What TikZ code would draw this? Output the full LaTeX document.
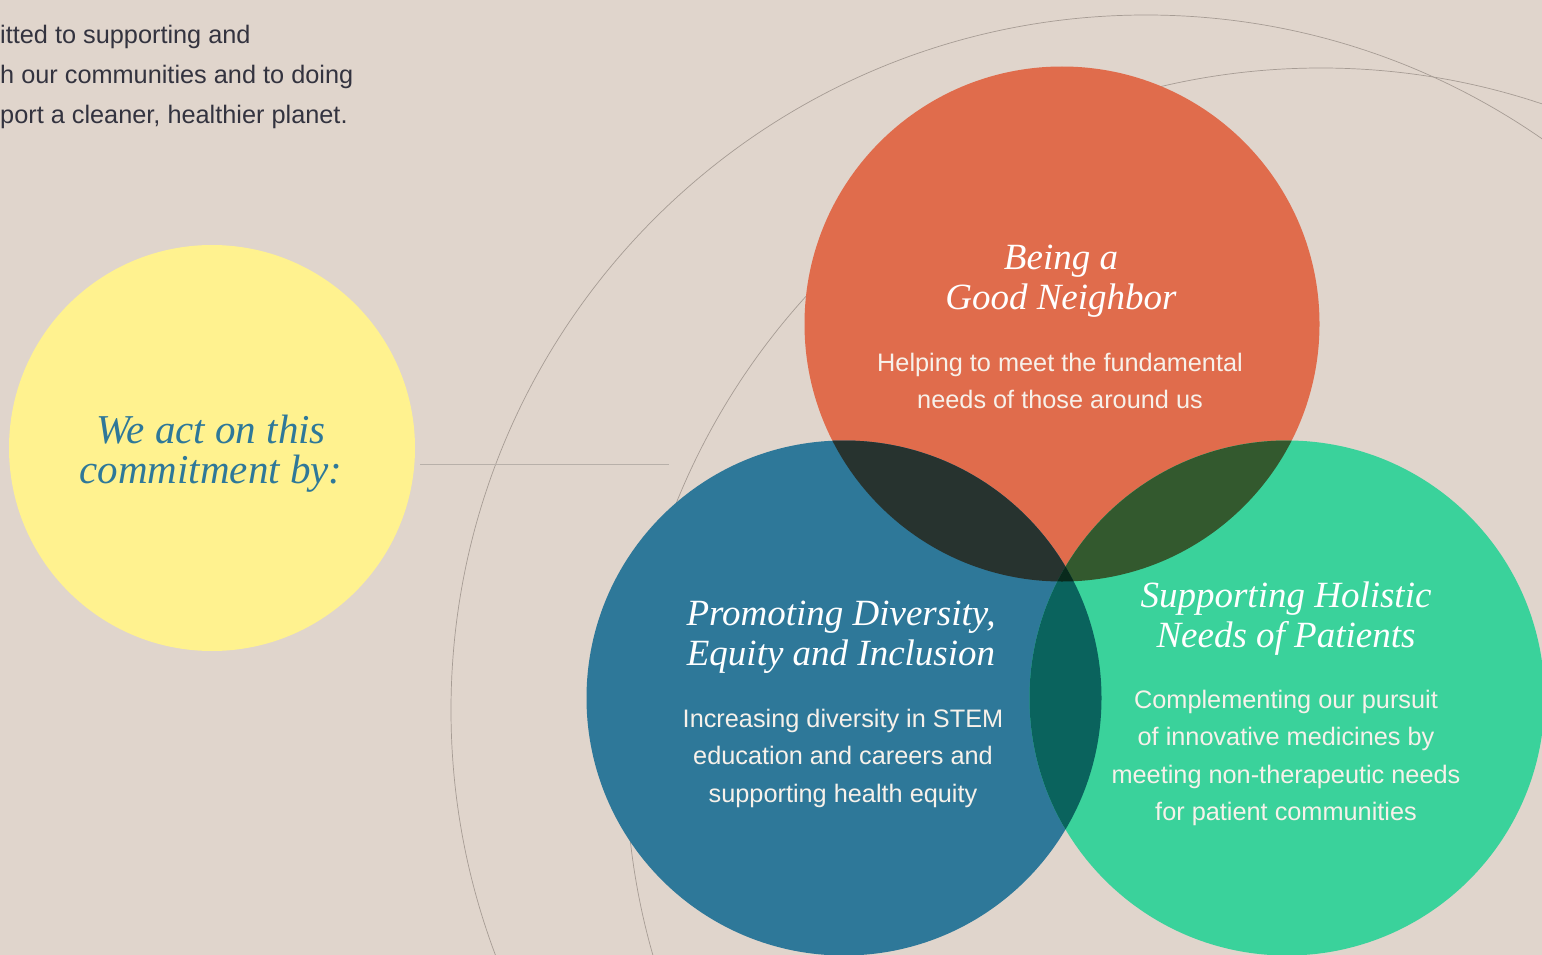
\documentclass[tikz,border=0pt]{standalone}
\usepackage{fontspec}
\setmainfont{Liberation Sans}
\newfontfamily\headfont{Liberation Serif}
\definecolor{bgbeige}{HTML}{E0D5CC}
\definecolor{sunyellow}{HTML}{FFF28F}
\definecolor{coral}{HTML}{E06C4C}
\definecolor{deepblue}{HTML}{2E7899}
\definecolor{mint}{HTML}{3AD29B}
\definecolor{coralblue}{HTML}{27332F}
\definecolor{coralmint}{HTML}{33592E}
\definecolor{bluemint}{HTML}{0A635D}
\definecolor{allthree}{HTML}{092A1C}
\definecolor{arcgray}{HTML}{A69C94}
\definecolor{inktext}{HTML}{33333F}
\definecolor{softwhite}{HTML}{F7F1EA}
\tikzset{
  headline/.style={text=white, font=\headfont\itshape\fontsize{37}{40}\selectfont, align=center, inner sep=0},
  blurb/.style={text=softwhite, font=\fontsize{25.3}{37.5}\selectfont, align=center, inner sep=0},
  intro/.style={text=inktext, font=\fontsize{25.3}{40}\selectfont, anchor=west, inner sep=0},
  guide/.style={draw=arcgray, line width=0.7pt},
}
\begin{document}
\begin{tikzpicture}[x=1pt,y=-1pt]
    \useasboundingbox (0,0) rectangle (1542,955);
    \clip (0,0) rectangle (1542,955);
    \fill[bgbeige] (0,0) rectangle (1542,955);
    %
    \draw[guide] (1146,710) circle (695);
    \draw[guide] (1321,763) circle (695);
    %
    \node[intro] (introa) at (0,37) {itted to supporting and};
    \node[intro] (introb) at (0,77) {h our communities and to doing};
    \node[intro] (introc) at (0,117) {port a cleaner, healthier planet.};
    %
    \node[circle, fill=sunyellow, minimum size=406, inner sep=0] (commit) at (212,448) {};
    \node[headline, text=deepblue, font=\headfont\itshape\fontsize{41}{40}\selectfont] (committext) at (211,454) {We act on this\\commitment by:};
    \coordinate (linestart) at (420,464);
    \coordinate (lineend) at (669,464);
    \draw[guide, draw=arcgray!80] (linestart) -- (lineend);
    %
    \coordinate (neighbor) at (1062,324);
    \coordinate (diversity) at (844,698);
    \coordinate (patients) at (1287,698);
    \fill[coral] (neighbor) circle (257.5);
    \fill[deepblue] (diversity) circle (257.5);
    \fill[mint] (patients) circle (257.5);
    \begin{scope}
        \clip (neighbor) circle (257.5);
        \fill[coralblue] (diversity) circle (257.5);
        \fill[coralmint] (patients) circle (257.5);
    \end{scope}
    \begin{scope}
        \clip (diversity) circle (257.5);
        \fill[bluemint] (patients) circle (257.5);
        \clip (neighbor) circle (257.5);
        \fill[allthree] (patients) circle (257.5);
    \end{scope}
    %
    \node[headline] (neighbortitle) at (1061,281) {Being a\\Good Neighbor};
    \node[blurb] (neighbortext) at (1060,381) {Helping to meet the fundamental\\needs of those around us};
    \node[headline] (diversitytitle) at (841,637) {Promoting Diversity,\\Equity and Inclusion};
    \node[blurb] (diversitytext) at (843,758) {Increasing diversity in STEM\\education and careers and\\supporting health equity};
    \node[headline] (patientstitle) at (1286,619) {Supporting Holistic\\Needs of Patients};
    \node[blurb] (patientstext) at (1286,758) {Complementing our pursuit\\of innovative medicines by\\meeting non-therapeutic needs\\for patient communities};
\end{tikzpicture}
\end{document}
